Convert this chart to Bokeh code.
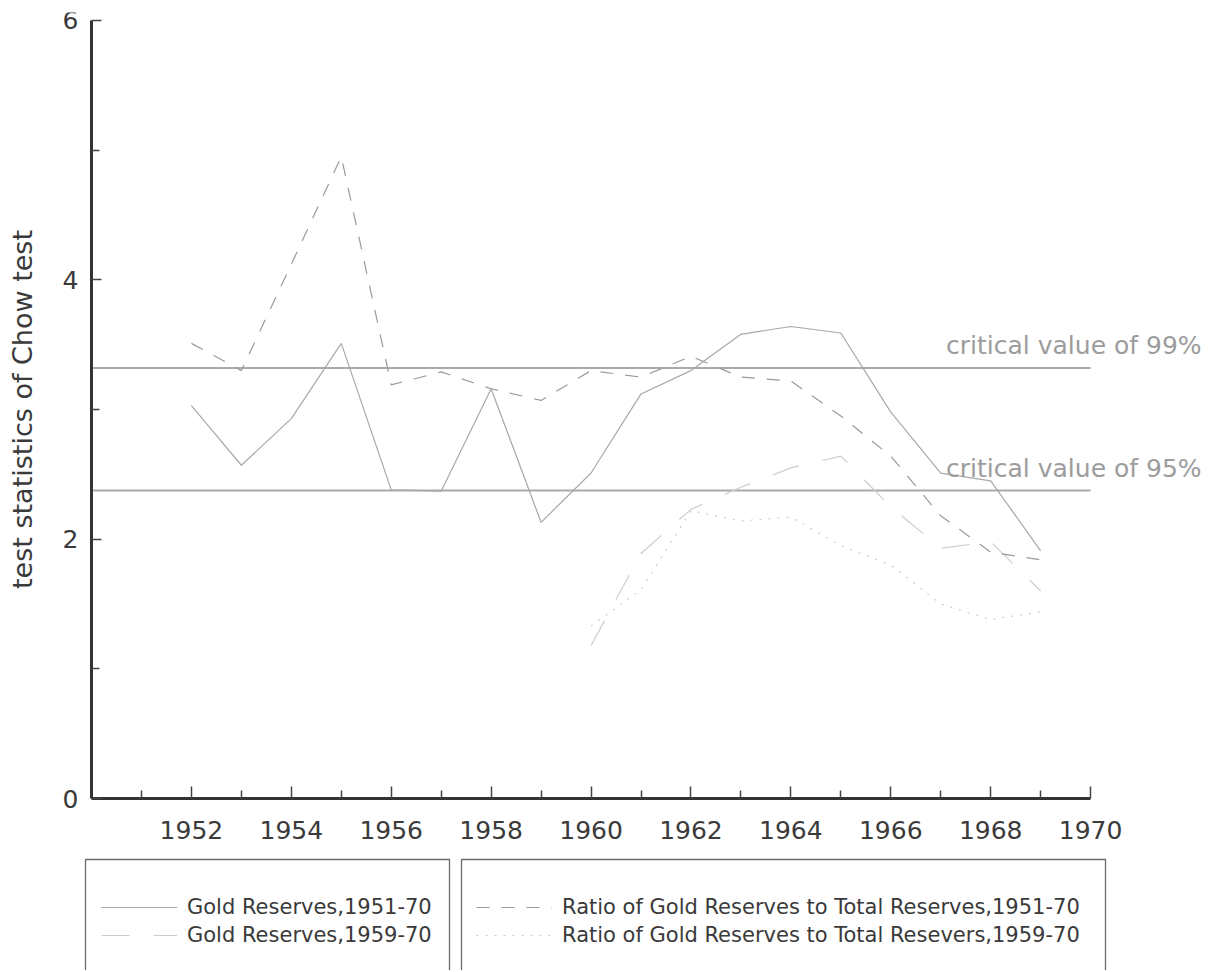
import math
from bokeh.plotting import figure
from bokeh.models import Range1d, FixedTicker, Legend, LegendItem, Label, BoxAnnotation
from bokeh.embed import file_html
from bokeh.resources import INLINE

# ---------------- data ----------------
years_51 = [1952, 1953, 1954, 1955, 1956, 1957, 1958, 1959, 1960,
            1961, 1962, 1963, 1964, 1965, 1966, 1967, 1968, 1969]
gold_51_70 = [3.03, 2.57, 2.93, 3.51, 2.38, 2.37, 3.16, 2.13, 2.51,
              3.12, 3.30, 3.58, 3.64, 3.59, 2.98, 2.51, 2.45, 1.91]
ratio_51_70 = [3.51, 3.30, 4.12, 4.95, 3.19, 3.29, 3.16, 3.07, 3.30,
               3.25, 3.41, 3.25, 3.22, 2.95, 2.64, 2.18, 1.90, 1.84]

years_59 = [1960, 1961, 1962, 1963, 1964, 1965, 1966, 1967, 1968, 1969]
gold_59_70 = [1.18, 1.89, 2.23, 2.40, 2.55, 2.64, 2.25, 1.93, 1.98, 1.60]
ratio_59_70 = [1.33, 1.61, 2.22, 2.14, 2.17, 1.95, 1.80, 1.50, 1.38, 1.44]

critical_values = [3.32, 2.375]
critical_labels = ["critical value of 99%", "critical value of 95%"]

series_labels = ["Gold Reserves,1951-70", "Gold Reserves,1959-70",
                 "Ratio of Gold Reserves to Total Reserves,1951-70",
                 "Ratio of Gold Reserves to Total Resevers,1959-70"]
y_title = "test statistics of Chow test"

x_start, x_end = 1950, 1970
y_start, y_end = 0, 6
x_major = [1952, 1954, 1956, 1958, 1960, 1962, 1964, 1966, 1968, 1970]
x_minor = [1951, 1953, 1955, 1957, 1959, 1961, 1963, 1965, 1967, 1969]
y_major = [0, 2, 4, 6]
y_minor = [1, 3, 5]

FONT = "DejaVu Sans"
TXT = "#3a3a3a"

PX_PER_YEAR = 49.955
PX_PER_UNIT = 129.67

p = figure(frame_width=1205, frame_height=958,
           x_range=Range1d(x_start - 91 / PX_PER_YEAR, x_start + 1114 / PX_PER_YEAR),
           y_range=Range1d(y_start - 172 / PX_PER_UNIT, y_end + 8 / PX_PER_UNIT),
           output_backend="svg", toolbar_location=None,
           min_border_left=0, min_border_right=5, min_border_top=12, min_border_bottom=0,
           background_fill_color="white", border_fill_color="white")
p.outline_line_color = None
p.grid.visible = False

# axes
for ax in (p.xaxis[0], p.yaxis[0]):
    ax.axis_line_width = 3
    ax.axis_line_color = "#333333"
    ax.major_tick_out = 0
    ax.minor_tick_out = 0
    ax.major_tick_line_color = "#444444"
    ax.minor_tick_line_color = "#444444"
    ax.major_tick_line_width = 1.5
    ax.minor_tick_line_width = 1.5
    ax.major_label_text_font = FONT
    ax.major_label_text_font_size = "25px"
    ax.major_label_text_color = TXT

p.xaxis.ticker = FixedTicker(ticks=x_major, minor_ticks=x_minor)
p.xaxis.bounds = (x_start, x_end)
p.xaxis.fixed_location = y_start
p.xaxis.major_tick_in = 12
p.xaxis.minor_tick_in = 8
p.xaxis.major_label_standoff = 22

p.yaxis.ticker = FixedTicker(ticks=y_major, minor_ticks=y_minor)
p.yaxis.bounds = (y_start, y_end)
p.yaxis.fixed_location = x_start
p.yaxis.major_tick_in = 10
p.yaxis.minor_tick_in = 8
p.yaxis.major_label_standoff = 13
p.yaxis.major_label_orientation = "horizontal"

# y axis title
p.add_layout(Label(x=x_start, y=(y_start + y_end) / 2, x_offset=-69, text=y_title,
                   angle=math.pi / 2, text_align="center", text_baseline="middle",
                   text_font=FONT, text_font_size="27px", text_color=TXT))

# critical value lines and labels
for v, lab in zip(critical_values, critical_labels):
    p.line([x_start, x_end], [v, v], line_color="#aaaaaa", line_width=2)
    p.add_layout(Label(x=x_end, y=v, x_offset=111, y_offset=8, text=lab,
                       text_align="right", text_baseline="bottom",
                       text_font=FONT, text_font_size="25px", text_color="#9c9c9c"))

# series
r1 = p.line(years_51, gold_51_70, line_color="#a8a8a8", line_width=1.2)
r2 = p.line(years_59, gold_59_70, line_color="#cccccc", line_width=1.2, line_dash="28 24")
r3 = p.line(years_51, ratio_51_70, line_color="#9a9a9a", line_width=1.2, line_dash="13 12")
r4 = p.line(years_59, ratio_59_70, line_color="#cccccc", line_width=1.2, line_dash="2 7")

# legend boxes
for l, r in ((85, 449), (461, 1105)):
    p.add_layout(BoxAnnotation(left=l, right=r, top=859, bottom=975,
                               left_units="canvas", right_units="canvas",
                               top_units="canvas", bottom_units="canvas",
                               fill_alpha=0, line_color="#6a6a6a", line_alpha=1.0,
                               line_width=1.3))

def make_legend(items, loc):
    return Legend(items=items, location=loc, orientation="vertical",
                  glyph_width=76, glyph_height=26, label_height=26,
                  label_standoff=10, spacing=2, padding=0, margin=0,
                  border_line_alpha=0, background_fill_alpha=0,
                  label_text_font=FONT, label_text_font_size="21px",
                  label_text_color=TXT)

leg1 = make_legend([LegendItem(label=series_labels[0], renderers=[r1]),
                    LegendItem(label=series_labels[1], renderers=[r2])], (101, 22))
leg2 = make_legend([LegendItem(label=series_labels[2], renderers=[r3]),
                    LegendItem(label=series_labels[3], renderers=[r4])], (476, 22))
p.add_layout(leg1)
p.add_layout(leg2)

open("out.html", "w").write(file_html(p, INLINE))
